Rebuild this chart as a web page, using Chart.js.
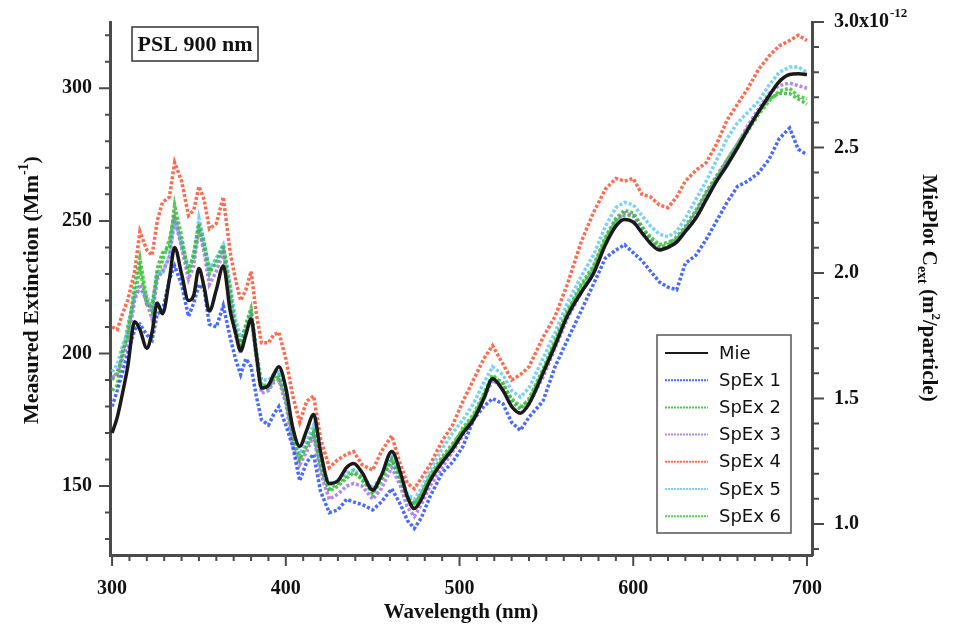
<!DOCTYPE html>
<html>
<head>
<meta charset="utf-8">
<script src="https://cdn.jsdelivr.net/npm/chart.js@4.4.0/dist/chart.umd.min.js"></script>
<style>
  body { margin: 0; background: #fff; }
</style>
</head>
<body>
<canvas id="chart" width="963" height="631"></canvas>
<script>
var wavelength = [
  300,303,306,309,313,316,320,323,326,329,
  333,336,340,344,347,350,353,356,360,364,
  368,371,374,377,380,383,386,390,393,396,
  400,404,408,412,416,420,425,430,435,439,
  444,450,455,461,466,470,474,478,483,490,
  496,502,508,514,519,525,530,535,540,548,
  555,562,570,577,584,590,595,600,605,610,
  615,620,625,630,636,642,648,654,660,666,
  672,678,684,690,695,700
];
var mie = [
  170,176,185,195,212,209,202,208,219,215,
  228,240,230,220,222,232,225,216,224,233,
  216,208,201,207,213,200,187,188,192,195,
  187,172,165,171,177,163,151,152,157,158.5,
  155,148.5,154,163,155,146,141.5,145,152,159,
  164,170,175,183,190.5,186,180,177.5,181,192.5,
  203,214,223,230,241,248,250.5,249.5,245.5,241.5,
  239,240,242,246,251,258,265,271,277.5,284.5,
  291,297,302.5,305.2,305.5,305.2
];
var spex1 = [
  180,186,193,200,209,211,207,205,215,216,
  228,233,226,214,219,226,224,211,210,218,
  206,198,192,198,195,184,175,173,177,180,
  173,165,152,159,162,148,140,141,145,144,
  143,141,144,149,143,137,134,138,146,155,
  159,165,175,180,183,181,174,171,176,182,
  195,205,216,226,236,239,241,238,235,231,
  227,225,224,234,237,243,250,257,263,265,
  268,273,281,285,277,275
];
var spex2 = [
  186,188,201,206,226,236,220,216,232,238,
  240,256,244,230,238,249,242,231,234,241,
  224,209,203,211,217,201,187,187,190,191,
  183,168,160,165,170,157,148,150,153,155,
  153,147,152,160,152,145,143,147,154,161,
  166,171,176,184,191,189,182,179,183,194,
  205,216,226,233,244,251,254,253,248,243,
  240,241,244,248,254,261,267,273,279,285,
  291,296,298,298,296,294
];
var spex3 = [
  191,192,198,204,220,226,219,213,228,231,
  236,251,240,228,233,247,238,226,231,238,
  221,207,200,208,214,198,185,186,189,190,
  181,165,158,163,169,155,145,147,150,151,
  150,145,149,157,150,142,138.5,143,150,157,
  163,169,175,183,190,187,180,177,181,191,
  202,213,223,231,242,250,253,252,247,242,
  240,240,243,247,253,260,266,273,279,286,
  292,298,301,302,301,300
];
var spex4 = [
  210,209,215,220,231,246,239,237,250,257,
  259,272,265,252,254,263,258,247,249,259,
  238,228,220,224,231,215,204,204,207,208,
  198,184,174,182,184,168,157,160,162,163,
  158,156,163,169,158,151,149,153,158,167,
  173,182,190,198,203,196,190,192,195,206,
  214,226,242,253,262,266,265,266,260,259,
  256,255,259,265,269,272,279,288,294,300,
  307,312,316,318,320,318
];
var spex5 = [
  193,196,203,208,222,224,222,217,231,230,
  237,250,242,232,236,251,242,232,236,241,
  226,213,206,210,215,201,190,190,192,193,
  186,172,162,167,173,160,150,152,155,156,
  154,149,154,161,154,147,145,149,156,164,
  170,175,181,189,195,192,186,183.5,187,198,
  208,219,229,237,248,255,257,256,252,248,
  245,244,246,251,258,265,273,281,287,291,
  295,301,306,308,308,306
];
var spex6 = [
  190,193,199,210,222,232,218,219,229,235,
  243,252,241,232,236,247,240,230,236,239,
  222,211,202,209,216,199,188,188,191,192,
  184,169,161,166,171,158,149,151,154,156,
  152,148,153,160,153,146,143.5,147,153,160,
  165,172,177,185,192,188,183,180,182,193,
  204,215,225,232,243,250,252,252,247,244,
  241,242,243,247,253,260,266,272,278,284,
  290,295,299,300,297,296
];
var seriesLabels = ['Mie', 'SpEx 1', 'SpEx 2', 'SpEx 3', 'SpEx 4', 'SpEx 5', 'SpEx 6'];
var xTickLabels = [300, 400, 500, 600, 700];
var leftTickLabels = [150, 200, 250, 300];
var rightTickLabels = ['1.0', '1.5', '2.0', '2.5', '3.0x10'];

var serif = '"Liberation Serif", "Times New Roman", serif';
var axisColor = '#4a4a4a';

function pairs(arr) {
  return wavelength.map(function(w, i) { return { x: w, y: arr[i] }; });
}

function spexSet(label, arr, color) {
  return {
    label: label,
    data: pairs(arr),
    borderColor: color,
    borderWidth: 3.5,
    borderDash: [3, 2],
    pointRadius: 0,
    tension: 0,
    yAxisID: 'y'
  };
}

function noPad(s) {
  s.paddingTop = 0; s.paddingBottom = 0;
  s.paddingLeft = 0; s.paddingRight = 0;
}

// draws a line of text made of runs (normal / superscript / subscript)
function drawRuns(ctx, runs, cx, cy) {
  var total = 0;
  runs.forEach(function(r) {
    ctx.font = 'bold ' + r.size + 'px ' + serif;
    r.w = ctx.measureText(r.t).width;
    total += r.w;
  });
  var x = cx - total / 2;
  ctx.textAlign = 'left';
  ctx.textBaseline = 'alphabetic';
  runs.forEach(function(r) {
    ctx.font = 'bold ' + r.size + 'px ' + serif;
    ctx.fillText(r.t, x, cy + (r.dy || 0));
    x += r.w;
  });
}

var extras = {
  id: 'extras',
  afterDraw: function(chart) {
    var ctx = chart.ctx, area = chart.chartArea;
    var sx = chart.scales.x, sy = chart.scales.y, sy2 = chart.scales.y2;
    ctx.save();

    // tick marks
    ctx.strokeStyle = axisColor;
    ctx.lineWidth = 2;
    ctx.beginPath();
    sx.ticks.forEach(function(t) {
      var p = sx.getPixelForValue(t.value);
      var len = t.value % 100 === 0 ? 11 : 6;
      ctx.moveTo(p, area.bottom); ctx.lineTo(p, area.bottom + len);
    });
    sy.ticks.forEach(function(t) {
      var p = sy.getPixelForValue(t.value);
      var len = t.value % 50 === 0 ? 11 : 5;
      ctx.moveTo(area.left, p); ctx.lineTo(area.left - len, p);
    });
    sy2.ticks.forEach(function(t) {
      var p = sy2.getPixelForValue(t.value);
      var i = Math.round(t.value * 10);
      var len = i % 5 === 0 ? 12 : 7;
      ctx.moveTo(area.right, p); ctx.lineTo(area.right + len, p);
    });
    ctx.stroke();

    // exponent on the top right tick label
    ctx.fillStyle = '#111';
    ctx.font = 'bold 20px ' + serif;
    var baseW = ctx.measureText(rightTickLabels[4]).width;
    ctx.font = 'bold 13px ' + serif;
    ctx.textAlign = 'left';
    ctx.textBaseline = 'middle';
    ctx.fillText('-12', area.right + 22 + baseW + 1, sy2.getPixelForValue(3.0) - 8);

    // y axis titles
    ctx.save();
    ctx.translate(31, 290);
    ctx.rotate(-Math.PI / 2);
    drawRuns(ctx, [
      { t: 'Measured Extinction (Mm', size: 22 },
      { t: '-1', size: 14, dy: -10 },
      { t: ')', size: 22 }
    ], 0, 7);
    ctx.restore();

    ctx.save();
    ctx.translate(930, 288);
    ctx.rotate(Math.PI / 2);
    drawRuns(ctx, [
      { t: 'MiePlot C', size: 21 },
      { t: 'ext', size: 14, dy: 5 },
      { t: ' (m', size: 21 },
      { t: '2', size: 13, dy: -9 },
      { t: '/particle)', size: 21 }
    ], 0, 7);
    ctx.restore();

    // sample label box
    ctx.fillStyle = '#fff';
    ctx.fillRect(132, 27, 126, 34);
    ctx.strokeStyle = '#333';
    ctx.lineWidth = 1.5;
    ctx.strokeRect(132, 27, 126, 34);
    ctx.fillStyle = '#111';
    ctx.font = 'bold 22px ' + serif;
    ctx.textAlign = 'center';
    ctx.textBaseline = 'middle';
    ctx.fillText('PSL 900 nm', 195, 45);

    // legend
    var lx = 657, ly = 335, lw = 134, lh = 198;
    ctx.fillStyle = '#fff';
    ctx.fillRect(lx, ly, lw, lh);
    ctx.strokeStyle = '#555';
    ctx.lineWidth = 1.5;
    ctx.strokeRect(lx, ly, lw, lh);
    ctx.font = '18px "DejaVu Sans", sans-serif';
    ctx.textAlign = 'left';
    ctx.textBaseline = 'middle';
    chart.data.datasets.forEach(function(ds, i) {
      var y = ly + 18 + i * 27.2;
      ctx.save();
      ctx.strokeStyle = ds.borderColor;
      ctx.lineWidth = 2;
      if (ds.borderDash) ctx.setLineDash([2, 1]);
      ctx.beginPath();
      ctx.moveTo(665, y); ctx.lineTo(708, y);
      ctx.stroke();
      ctx.restore();
      ctx.fillStyle = '#111';
      ctx.fillText(ds.label, 719, y + 1);
    });

    ctx.restore();
  }
};

var ctx = document.getElementById('chart').getContext('2d');
var chart = new Chart(ctx, {
  type: 'line',
  data: {
    datasets: [
      {
        label: seriesLabels[0],
        data: pairs(mie),
        borderColor: '#1a1a1a',
        borderWidth: 3.5,
        pointRadius: 0,
        cubicInterpolationMode: 'monotone',
        yAxisID: 'y'
      },
      spexSet(seriesLabels[1], spex1, 'rgba(40,80,255,0.85)'),
      spexSet(seriesLabels[2], spex2, 'rgba(60,185,60,0.85)'),
      spexSet(seriesLabels[3], spex3, 'rgba(165,115,235,0.85)'),
      spexSet(seriesLabels[4], spex4, 'rgba(255,80,50,0.85)'),
      spexSet(seriesLabels[5], spex5, 'rgba(100,200,245,0.85)'),
      spexSet(seriesLabels[6], spex6, 'rgba(50,200,50,0.85)')
    ]
  },
  options: {
    responsive: false,
    animation: false,
    devicePixelRatio: 1,
    layout: { autoPadding: false, padding: { top: 22, left: 0, right: 0, bottom: 0 } },
    plugins: {
      legend: { display: false },
      tooltip: { enabled: false }
    },
    scales: {
      x: {
        type: 'linear',
        min: 298.8,
        max: 702.9,
        afterFit: function(s) { s.height = 76; noPad(s); },
        afterBuildTicks: function(s) {
          var t = [];
          for (var v = 300; v <= 700; v += 10) t.push({ value: v });
          s.ticks = t;
        },
        grid: { drawOnChartArea: false, drawTicks: false },
        border: { color: axisColor, width: 3 },
        ticks: {
          autoSkip: false,
          maxRotation: 0,
          padding: 22,
          color: '#111',
          font: { family: serif, size: 20, weight: 'bold' },
          callback: function(v) { return xTickLabels.indexOf(v) >= 0 ? String(v) : ''; }
        },
        title: {
          display: true,
          text: 'Wavelength (nm)',
          color: '#111',
          font: { family: serif, size: 21, weight: 'bold' },
          padding: { top: 0, bottom: 6 }
        }
      },
      y: {
        position: 'left',
        min: 124,
        max: 325,
        afterFit: function(s) { s.width = 110; noPad(s); },
        afterBuildTicks: function(s) {
          var t = [];
          for (var v = 130; v <= 320; v += 10) t.push({ value: v });
          s.ticks = t;
        },
        grid: { drawOnChartArea: false, drawTicks: false },
        border: { color: axisColor, width: 3 },
        ticks: {
          autoSkip: false,
          padding: 18,
          color: '#111',
          font: { family: serif, size: 20, weight: 'bold' },
          callback: function(v) { return leftTickLabels.indexOf(v) >= 0 ? String(v) : ''; }
        }
      },
      y2: {
        position: 'right',
        min: 0.876,
        max: 3.0,
        afterFit: function(s) { s.width = 151; noPad(s); },
        afterBuildTicks: function(s) {
          var t = [];
          for (var i = 9; i <= 30; i++) t.push({ value: i / 10 });
          s.ticks = t;
        },
        grid: { drawOnChartArea: false, drawTicks: false },
        border: { color: axisColor, width: 3 },
        ticks: {
          autoSkip: false,
          padding: 22,
          color: '#111',
          font: { family: serif, size: 20, weight: 'bold' },
          callback: function(v) {
            var i = Math.round(v * 10);
            if (i % 5 !== 0) return '';
            return rightTickLabels[(i - 10) / 5];
          }
        }
      }
    }
  },
  plugins: [extras]
});
</script>
</body>
</html>
